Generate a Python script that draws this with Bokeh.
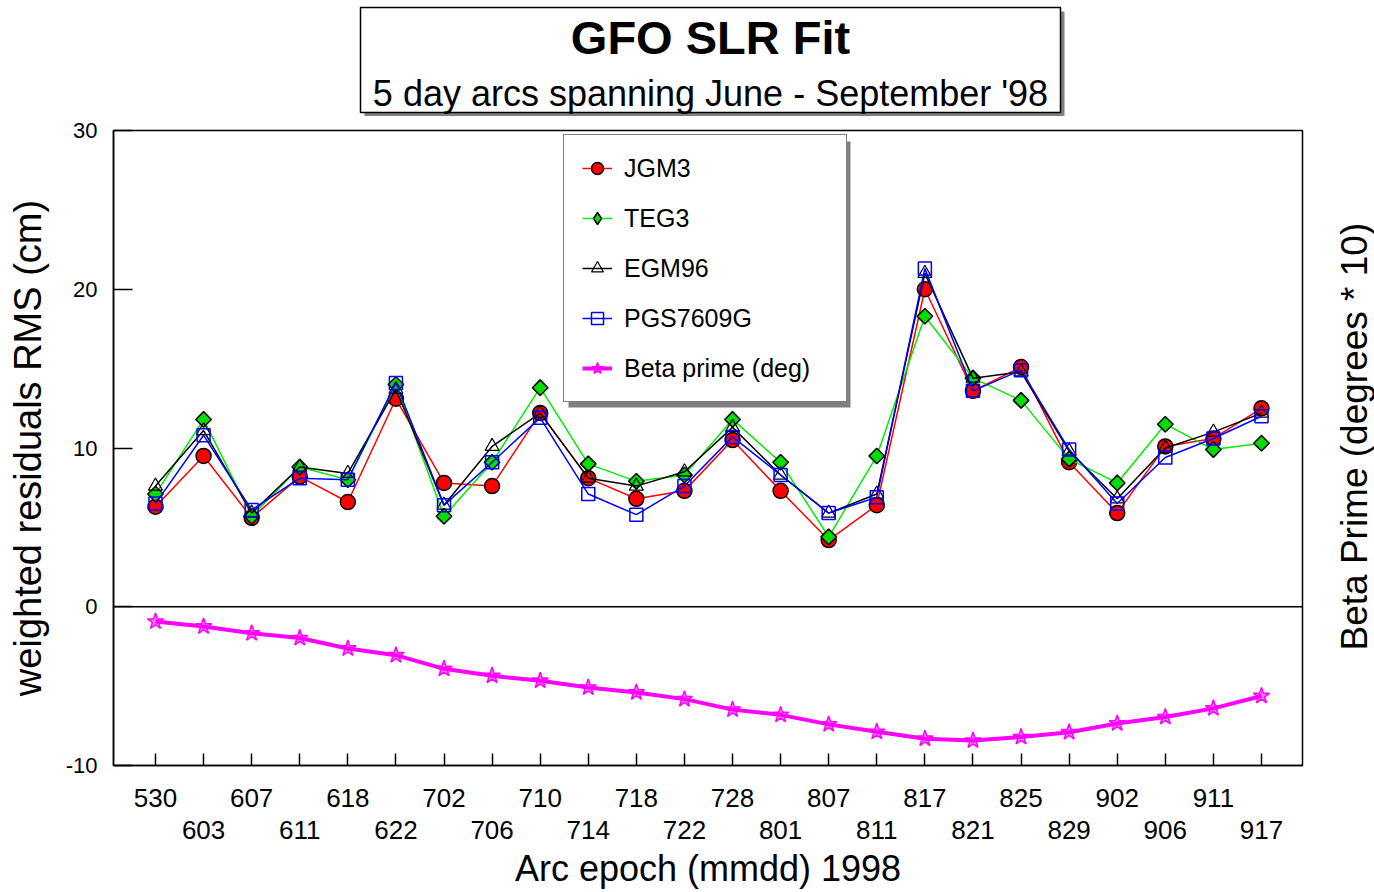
import math
from bokeh.plotting import figure
from bokeh.layouts import column, row
from bokeh.models import (Range1d, LinearAxis, FixedTicker, Span, BoxAnnotation,
                          Legend, LegendItem, ColumnDataSource)
from bokeh.core.properties import value
from bokeh.embed import file_html
from bokeh.resources import INLINE

# ---------------- data ----------------
categories = ["530", "603", "607", "611", "618", "622", "702", "706", "710", "714", "718", "722",
              "728", "801", "807", "811", "817", "821", "825", "829", "902", "906", "911", "917"]
jgm3 = [6.3, 9.5, 5.6, 8.2, 6.6, 13.1, 7.8, 7.6, 12.2, 8.1, 6.8, 7.3,
        10.5, 7.3, 4.2, 6.4, 20.0, 13.6, 15.1, 9.1, 5.9, 10.1, 10.6, 12.5]
teg3 = [7.1, 11.8, 5.7, 8.8, 8.0, 14.0, 5.7, 9.1, 13.8, 9.0, 7.9, 8.3,
        11.8, 9.1, 4.4, 9.5, 18.3, 14.4, 13.0, 9.3, 7.8, 11.5, 9.9, 10.3]
egm96 = [7.6, 11.1, 5.9, 8.8, 8.4, 13.7, 6.4, 10.1, 12.2, 8.1, 7.6, 8.5,
         11.3, 8.3, 5.9, 7.1, 21.0, 14.4, 14.8, 9.8, 6.8, 10.0, 11.0, 12.2]
pgs7609g = [6.5, 10.8, 6.1, 8.1, 8.0, 14.1, 6.4, 9.1, 11.9, 7.1, 5.8, 7.6,
            10.7, 8.3, 5.9, 6.9, 21.3, 13.6, 14.9, 9.9, 6.5, 9.4, 10.6, 12.0]
beta_prime = [-0.93, -1.24, -1.67, -1.97, -2.63, -3.05, -3.91, -4.35, -4.66, -5.09, -5.40, -5.82,
              -6.48, -6.81, -7.41, -7.88, -8.31, -8.43, -8.21, -7.90, -7.35, -6.95, -6.40, -5.62]
y_ticks = [-10, 0, 10, 20, 30]

title_text = "GFO SLR Fit"
subtitle_text = "5 day arcs spanning June - September '98"
right_title = "Beta Prime (degrees * 10)"

FONT = "Liberation Sans"
W, H = 1374, 892
T_H = 116                      # height of the title strip
R_W = 70                       # width of the right-hand title strip
M_W, M_H = W - R_W, H - T_H    # main figure
FL, FR, FT, FB = 113, 1302, 130, 765   # frame edges in page px
X0, X1 = -0.873, 23.853
Y0, Y1 = -10, 30


def dx(px):
    return X0 + (px - FL) / (FR - FL) * (X1 - X0)


def dy(py):
    return Y0 + (FB - py) / (FB - FT) * (Y1 - Y0)


idx = list(range(len(categories)))
src = ColumnDataSource(dict(x=idx, jgm3=jgm3, teg3=teg3, egm96=egm96, pgs=pgs7609g, beta=beta_prime))

# ---------------- main plot ----------------
p = figure(width=M_W, height=M_H, output_backend="svg", toolbar_location=None,
           x_range=Range1d(X0, X1), y_range=Range1d(Y0, Y1),
           min_border_left=FL, min_border_right=M_W - FR, min_border_top=FT - T_H,
           min_border_bottom=H - FB,
           background_fill_color="white", border_fill_color="white")
p.grid.visible = False
p.outline_line_color = "black"
p.outline_line_width = 1.5

# y axis
ya = p.yaxis[0]
ya.ticker = FixedTicker(ticks=y_ticks)
ya.major_label_overrides = {t: str(t) for t in y_ticks}
ya.minor_tick_line_color = None
ya.major_tick_in = 19
ya.major_tick_out = 0
ya.major_tick_line_width = 1.5
ya.axis_line_width = 1.5
ya.major_label_standoff = 16
ya.major_label_text_font = FONT
ya.major_label_text_font_size = "22px"
ya.major_label_text_color = "black"
ya.axis_label = "weighted residuals RMS (cm)"
ya.axis_label_text_font = FONT
ya.axis_label_text_font_size = "38px"
ya.axis_label_text_font_style = "normal"
ya.axis_label_text_color = "black"
ya.axis_label_standoff = 14

# x axis, first row of labels
xa = p.xaxis[0]
xa.ticker = FixedTicker(ticks=idx)
xa.major_label_overrides = {i: (c if i % 2 == 0 else "") for i, c in enumerate(categories)}
xa.minor_tick_line_color = None
xa.major_tick_in = 12
xa.major_tick_out = 0
xa.major_tick_line_width = 1.5
xa.axis_line_width = 1.5
xa.major_label_standoff = 23
xa.major_label_text_font = FONT
xa.major_label_text_font_size = "26px"
xa.major_label_text_color = "black"

# x axis, second row of labels
xa2 = LinearAxis(ticker=FixedTicker(ticks=[i for i in idx if i % 2 == 1]),
                 major_label_overrides={i: c for i, c in enumerate(categories) if i % 2 == 1})
xa2.axis_line_color = None
xa2.major_tick_line_color = None
xa2.minor_tick_line_color = None
xa2.major_label_standoff = 5
xa2.major_label_text_font = FONT
xa2.major_label_text_font_size = "26px"
xa2.major_label_text_color = "black"
xa2.axis_label = "Arc epoch (mmdd) 1998"
xa2.axis_label_text_font = FONT
xa2.axis_label_text_font_size = "36px"
xa2.axis_label_text_font_style = "normal"
xa2.axis_label_text_color = "black"
xa2.axis_label_standoff = 6
p.add_layout(xa2, "below")

# zero line
p.add_layout(Span(location=0, dimension="width", line_color="black", line_width=1.5))

# series
l1 = p.line("x", "jgm3", source=src, line_color="#ff0000", line_width=1.5)
s1 = p.scatter("x", "jgm3", source=src, marker="circle", size=15, fill_color="#ff0000",
               line_color="black", line_width=1.5)
l2 = p.line("x", "teg3", source=src, line_color="#00ee00", line_width=1.5)
s2 = p.scatter("x", "teg3", source=src, marker="square", angle=math.pi / 4, size=11,
               fill_color="#00dd00", line_color="black", line_width=1.5)
l3 = p.line("x", "egm96", source=src, line_color="black", line_width=1.5)
s3 = p.scatter("x", "egm96", source=src, marker="triangle", size=14, fill_alpha=0,
               line_color="black", line_width=1.2)
l4 = p.line("x", "pgs", source=src, line_color="#0000ff", line_width=1.5)
s4 = p.scatter("x", "pgs", source=src, marker="square", size=13, fill_alpha=0,
               line_color="#0000ff", line_width=1.5)
l5 = p.line("x", "beta", source=src, line_color="#ff00ff", line_width=4)
s5 = p.scatter("x", "beta", source=src, marker="star", size=17, fill_color="#ff00ff",
               fill_alpha=0.5, line_color="#ff00ff", line_width=1.5)
# legend swatch for the diamonds (legend swatches ignore marker rotation); no visible point
teg3_swatch = p.scatter(x=[0], y=[float("nan")], marker="diamond", size=14, fill_color="#00dd00",
                        line_color="black", line_width=1.5)

# legend with shadow
LX, LYB = 450, 363   # legend bottom-left relative to frame
LWID, LHGT = 282, 266
lg_left, lg_bottom = FL + LX, FB - LYB
p.add_layout(BoxAnnotation(left=dx(lg_left + 5), right=dx(lg_left + LWID + 5),
                           top=dy(lg_bottom - LHGT + 5), bottom=dy(lg_bottom + 5),
                           fill_color="#808080", fill_alpha=1, line_color=None))
legend = Legend(items=[LegendItem(label="JGM3", renderers=[l1, s1]),
                       LegendItem(label="TEG3", renderers=[l2, teg3_swatch]),
                       LegendItem(label="EGM96", renderers=[l3, s3]),
                       LegendItem(label="PGS7609G", renderers=[l4, s4]),
                       LegendItem(label="Beta prime (deg)", renderers=[l5, s5])],
                location=(LX, LYB), margin=0, padding=18, spacing=20,
                glyph_height=30, glyph_width=30, label_height=30, label_width=204,
                label_standoff=12, label_text_font=FONT, label_text_font_size="25px",
                label_text_color="black", border_line_color="black", border_line_width=1.5,
                background_fill_color="white", background_fill_alpha=1)
p.add_layout(legend)

# ---------------- title strip (page px coordinates) ----------------
t = figure(width=W, height=T_H, output_backend="svg", toolbar_location=None,
           x_range=Range1d(0, W), y_range=Range1d(T_H, 0),
           min_border=0, x_axis_type=None, y_axis_type=None,
           background_fill_color="white", border_fill_color="white")
t.grid.visible = False
t.outline_line_color = None
TB_L, TB_R, TB_T, TB_B = 360, 1060, 7, 112
t.quad(left=[TB_L + 4], right=[TB_R + 4], top=[TB_T + 4], bottom=[TB_B + 4],
       fill_color="#808080", line_color=None)
t.quad(left=[TB_L], right=[TB_R], top=[TB_T], bottom=[TB_B],
       fill_color="white", line_color="black", line_width=1.5)
t.text(x=[710], y=[37], text=[title_text], text_align="center", text_baseline="middle",
       text_font=value(FONT), text_font_size=value("47px"), text_font_style="bold",
       text_color="black")
t.text(x=[710], y=[93], text=[subtitle_text], text_align="center", text_baseline="middle",
       text_font=value(FONT), text_font_size=value("36px"), text_color="black")

# ---------------- right-hand title strip ----------------
# its frame is aligned with the main plot's frame (page y 130..765) by the row layout
r = figure(width=R_W, height=M_H, output_backend="svg", toolbar_location=None,
           x_range=Range1d(0, R_W), y_range=Range1d(FB, FT),
           min_border=0, x_axis_type=None, y_axis_type=None,
           background_fill_color="white", border_fill_color="white")
r.grid.visible = False
r.outline_line_color = None
r.text(x=[1354 - M_W], y=[650], text=[right_title], angle=math.pi / 2,
       text_align="left", text_baseline="middle",
       text_font=value(FONT), text_font_size=value("37px"), text_color="black")

layout = column(t, row(p, r))
open("out.html", "w").write(file_html(layout, INLINE))
